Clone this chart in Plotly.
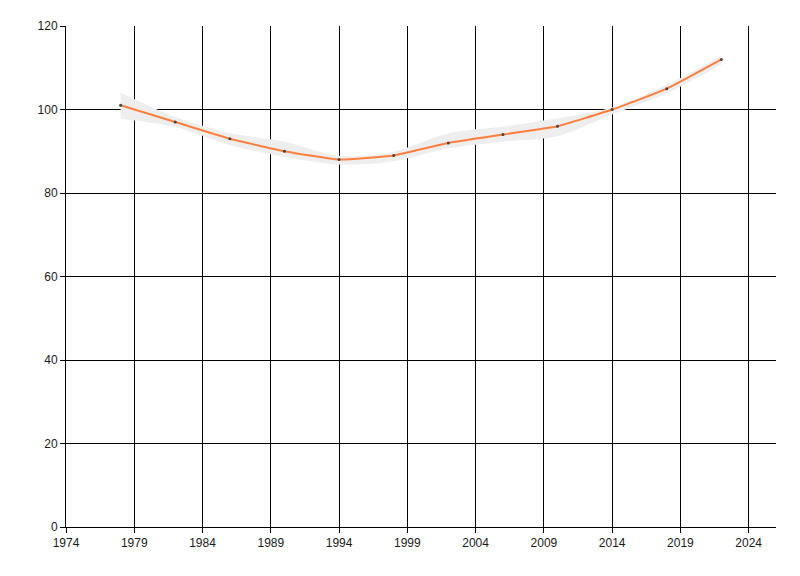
import plotly.graph_objects as go

years = [1978, 1982, 1986, 1990, 1994, 1998, 2002, 2006, 2010, 2014, 2018, 2022]
values = [101, 97, 93, 90, 88, 89, 92, 94, 96, 100, 105, 112]
upper = [104, 98.2, 94.4, 92.3, 88.9, 89.9, 94.3, 95.9, 97.9, 100.5, 105.9, 112.8]
lower = [97.8, 95.8, 91.5, 88.6, 86.8, 87.6, 90.7, 92.3, 93.6, 98.8, 103.9, 110.8]

x_ticks = [1974, 1979, 1984, 1989, 1994, 1999, 2004, 2009, 2014, 2019, 2024]
y_ticks = [0, 20, 40, 60, 80, 100, 120]

fig = go.Figure()
fig.add_trace(go.Scatter(x=years, y=lower, mode="lines", line=dict(width=0, shape="spline", smoothing=0.8),
                         showlegend=False, hoverinfo="skip"))
fig.add_trace(go.Scatter(x=years, y=upper, mode="lines", line=dict(width=0, shape="spline", smoothing=0.8),
                         fill="tonexty", fillcolor="rgba(238,238,238,1)", showlegend=False, hoverinfo="skip"))
fig.add_trace(go.Scatter(x=years, y=values, mode="lines", line=dict(color="#ff7f3f", width=2, shape="spline", smoothing=0.4),
                         showlegend=False))
fig.add_trace(go.Scatter(x=years, y=values, mode="markers", marker=dict(color="#444444", size=3),
                         showlegend=False))

axis_common = dict(showgrid=True, gridcolor="black", gridwidth=1, showline=True, linecolor="black", linewidth=1,
                   ticks="outside", ticklen=5, tickcolor="black", zeroline=False,
                   tickfont=dict(family="Liberation Sans, Arial", size=12, color="#1a1a1a"))
fig.update_xaxes(range=[1974, 2026], tickvals=x_ticks, ticktext=[str(t) for t in x_ticks], **axis_common)
fig.update_yaxes(range=[0, 120], tickvals=y_ticks, **axis_common)

fig.update_layout(width=800, height=576, margin=dict(l=58, r=32, t=18, b=57),
                  plot_bgcolor="white", paper_bgcolor="white")
fig.write_html("out.html")
